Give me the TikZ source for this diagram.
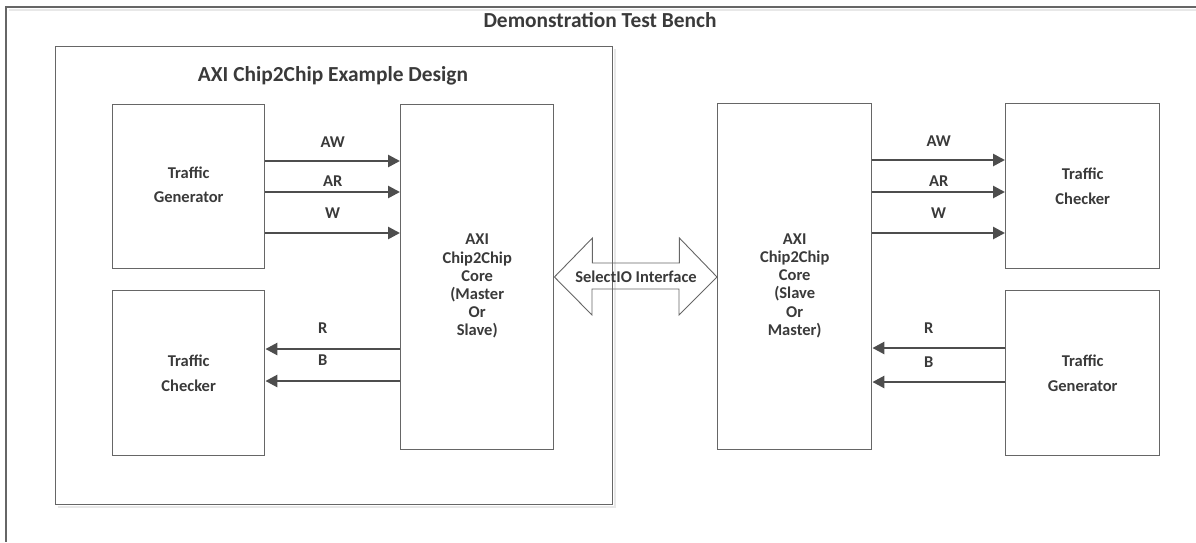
\documentclass[tikz,border=0pt]{standalone}
\usepackage{fontspec}
\setmainfont{Carlito}
\usetikzlibrary{arrows.meta}
\definecolor{boxgray}{HTML}{666666}
\definecolor{txtgray}{HTML}{3A3A3A}
\definecolor{arrgray}{HTML}{4D4D4D}
\definecolor{shadegray}{HTML}{E8E8E8}
\tikzset{
  frame/.style={draw=boxgray, line width=1.4pt},
  shadowline/.style={draw=shadegray, line width=1.2pt},
  blk/.style={draw=boxgray, line width=1.4pt, anchor=north west, inner sep=0pt},
  title/.style={text=txtgray, font=\fontsize{21.4}{24}\selectfont\bfseries},
  txt/.style={text=txtgray, align=center, font=\fontsize{16.5}{18.2}\selectfont\bfseries},
  sig/.style={draw=arrgray, line width=2.6pt, -{Triangle[length=12pt,width=12pt]}},
  siglbl/.style={text=txtgray, font=\fontsize{16.5}{18}\selectfont\bfseries},
}
\begin{document}
\begin{tikzpicture}[x=1pt, y=-1pt]
\useasboundingbox (0,0) rectangle (1196,542);
% test bench frame
\draw[shadowline] (1196,10) -- (9,10);
\draw[frame] (1196,7) -- (6,7) -- (6,542);
\node[title] (bench) at (600,20) {Demonstration Test Bench};
% example design
\draw[shadowline] (58,507) -- (615,507) -- (615,49);
\node[blk, minimum width=557pt, minimum height=458pt] (design) at (55,46) {};
\node[title] (designtitle) at (333,76) {AXI Chip2Chip Example Design};
% blocks
\node[blk, minimum width=152pt, minimum height=164pt] (tgen) at (112,104) {};
\node[blk, minimum width=152pt, minimum height=165pt] (tchk) at (112,290) {};
\node[blk, minimum width=153pt, minimum height=345pt] (mcore) at (400,104) {};
\node[blk, minimum width=154pt, minimum height=346pt] (score) at (717,103) {};
\node[blk, minimum width=154pt, minimum height=165pt] (rchk) at (1005,103) {};
\node[blk, minimum width=154pt, minimum height=165pt] (rgen) at (1005,290) {};
% block texts
\node[txt] (tgentxt) at ([yshift=2pt]tgen.center) {Traffic\\[6pt]Generator};
\node[txt] (tchktxt) at (tchk.center) {Traffic\\[6pt]Checker};
\node[txt] (mcoretxt) at ([yshift=-9pt]mcore.center) {AXI\\Chip2Chip\\Core\\(Master\\Or\\Slave)};
\node[txt] (scoretxt) at ([yshift=-9pt]score.center) {AXI\\Chip2Chip\\Core\\(Slave\\Or\\Master)};
\node[txt] (rchktxt) at (rchk.center) {Traffic\\[6pt]Checker};
\node[txt] (rgentxt) at (rgen.center) {Traffic\\[6pt]Generator};
% master side channels
\draw[sig] ([yshift=-57pt]tgen.north east) -- node[siglbl, yshift=19pt] (aw1) {AW} ([yshift=-57pt]mcore.north west);
\draw[sig] ([yshift=-88pt]tgen.north east) -- node[siglbl, yshift=11pt] (ar1) {AR} ([yshift=-88pt]mcore.north west);
\draw[sig] ([yshift=-129pt]tgen.north east) -- node[siglbl, yshift=20pt] (w1) {W} ([yshift=-129pt]mcore.north west);
\draw[sig] ([yshift=-59pt]mcore.north west |- tchk.north) -- node[siglbl, xshift=-10pt, yshift=21pt] (r1) {R} ([yshift=-59pt]tchk.north east);
\draw[sig] ([yshift=-91pt]mcore.north west |- tchk.north) -- node[siglbl, xshift=-10pt, yshift=21pt] (b1) {B} ([yshift=-91pt]tchk.north east);
% slave side channels
\draw[sig] ([yshift=-57pt]score.north east) -- node[siglbl, yshift=19pt] (aw2) {AW} ([yshift=-57pt]rchk.north west);
\draw[sig] ([yshift=-89pt]score.north east) -- node[siglbl, yshift=11pt] (ar2) {AR} ([yshift=-89pt]rchk.north west);
\draw[sig] ([yshift=-130pt]score.north east) -- node[siglbl, yshift=20pt] (w2) {W} ([yshift=-130pt]rchk.north west);
\draw[sig] ([yshift=-58pt]rgen.north west) -- node[siglbl, xshift=-10pt, yshift=20pt] (r2) {R} ([yshift=-58pt]rgen.north west -| score.east);
\draw[sig] ([yshift=-92pt]rgen.north west) -- node[siglbl, xshift=-10pt, yshift=20pt] (b2) {B} ([yshift=-92pt]rgen.north west -| score.east);
% selectio link
\draw[draw=boxgray, line width=0.9pt] (mcore.east |- 0,277) -- ++(38,-39) -- ++(0,25) -- ++(87,0) -- ++(0,-25)
  -- (score.west |- 0,277) -- ++(-38,38) -- ++(0,-26) -- ++(-87,0) -- ++(0,26) -- cycle;
\node[siglbl] (sio) at (636,277) {SelectIO Interface};
\end{tikzpicture}
\end{document}
